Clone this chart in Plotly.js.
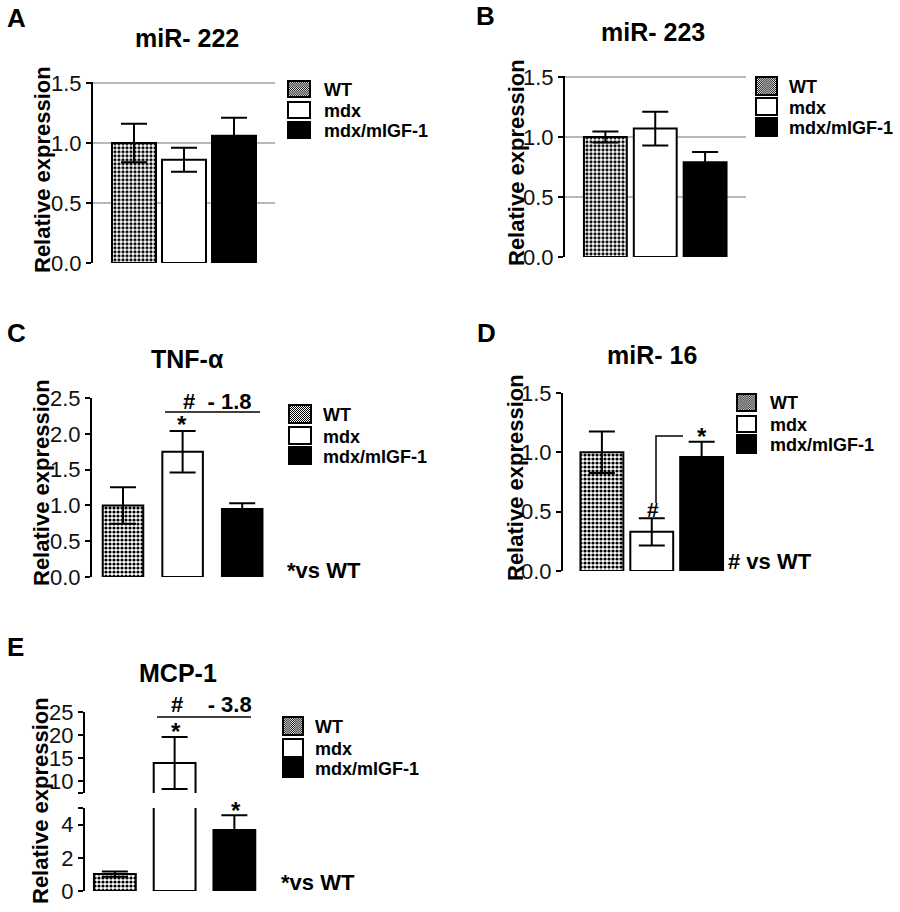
<!DOCTYPE html>
<html>
<head>
<meta charset="utf-8">
<script src="https://cdn.plot.ly/plotly-3.0.1.min.js"></script>
<style>html,body{margin:0;padding:0;background:#fff;}#chart{width:900px;height:912px;}</style>
</head>
<body>
<div id="chart"></div>
<script>
// ---------- data ----------
const groups = ['WT', 'mdx', 'mdx/mIGF-1'];

const miR222 = [1.00, 0.86, 1.06];
const miR222Err = [0.16, 0.10, 0.15];

const miR223 = [1.00, 1.07, 0.79];
const miR223Err = [0.045, 0.14, 0.085];

const tnfa = [1.00, 1.75, 0.95];
const tnfaErr = [0.255, 0.29, 0.08];

const miR16 = [1.00, 0.33, 0.96];
const miR16Err = [0.175, 0.115, 0.13];

const mcp1 = [1.02, 13.9, 3.67];
const mcp1Err = [0.16, 5.65, 0.9];

const ticks15 = [0, 0.5, 1.0, 1.5];
const ticks25 = [0, 0.5, 1.0, 1.5, 2.0, 2.5];
const mcpLowTicks = [0, 2, 4, 5];
const mcpLowText = ['0', '2', '4', ''];
const mcpHighTicks = [7.4, 10, 15, 20, 25];
const mcpHighText = ['', '10', '15', '20', '25'];

// ---------- helpers ----------
const W = 900, H = 912;
const px = v => v / W;
const py = v => 1 - v / H;
const FONT = 'Liberation Sans, Arial, sans-serif';

const lineStyle = {color: '#000', width: 2};
const barStyles = [
  {color: '#fff', line: lineStyle,
   pattern: {shape: '.', size: 4, solidity: 0.5, fgcolor: '#000', bgcolor: '#fff', fillmode: 'replace'}},
  {color: '#fff', line: lineStyle},
  {color: '#000', line: lineStyle}
];

const traces = [];
function addBars(vals, errs, xa, ya, w) {
  for (let i = 0; i < groups.length; i++) {
    traces.push({
      type: 'bar', x: [groups[i]], y: [vals[i]], width: w,
      xaxis: xa, yaxis: ya, showlegend: false, hoverinfo: 'skip',
      marker: barStyles[i],
      error_y: {type: 'data', array: [errs[i]], visible: true, color: '#000', thickness: 2, width: 13}
    });
  }
}
addBars(miR222, miR222Err, 'x', 'y', 0.88);
addBars(miR223, miR223Err, 'x2', 'y2', 0.86);
addBars(tnfa, tnfaErr, 'x3', 'y3', 0.68);
addBars(miR16, miR16Err, 'x4', 'y4', 0.86);
addBars(mcp1, mcp1Err, 'x5', 'y5', 0.70);
addBars(mcp1, mcp1Err, 'x5', 'y6', 0.70);

function xax(l, r, range) {
  return {domain: [px(l), px(r)], range: range, type: 'category', categoryarray: groups,
          showline: false, showticklabels: false, ticks: '', showgrid: false, zeroline: false, fixedrange: true};
}
function yax(b, t, range, tickvals, ticktext, grid, anchor) {
  const o = {domain: [py(b), py(t)], range: range, anchor: anchor,
    showline: true, linecolor: '#000', linewidth: 2,
    ticks: 'outside', ticklen: 5, tickwidth: 2, tickcolor: '#000',
    tickvals: tickvals, tickfont: {family: FONT, size: 22, color: '#111'},
    showgrid: grid, gridcolor: '#b8b8b8', gridwidth: 1.5,
    zeroline: grid, zerolinecolor: '#fff', zerolinewidth: 3, fixedrange: true};
  if (ticktext) o.ticktext = ticktext; else o.tickformat = '.1f';
  return o;
}

const annotations = [];
function ann(text, x, y, size, opts) {
  annotations.push(Object.assign({text: text, x: px(x), y: py(y), xref: 'paper', yref: 'paper',
    showarrow: false, xanchor: 'center', yanchor: 'middle',
    font: {family: FONT, size: size, color: '#000'}}, opts || {}));
}
const shapes = [];
const images = [];
function hline(x0, x1, y) {
  shapes.push({type: 'line', xref: 'paper', yref: 'paper', x0: px(x0), x1: px(x1), y0: py(y), y1: py(y),
               line: {color: '#000', width: 1.5}});
}

// checker pattern image for WT legend box
const checkerSvg = "<svg xmlns='http://www.w3.org/2000/svg' width='44' height='36'><defs><pattern id='p' width='4' height='4' patternUnits='userSpaceOnUse'><rect width='4' height='4' fill='#fff'/><rect width='2' height='2' fill='#000'/><rect x='2' y='2' width='2' height='2' fill='#000'/></pattern></defs><rect width='44' height='36' fill='url(#p)'/></svg>";
const checkerSrc = 'data:image/svg+xml;charset=utf-8,' + encodeURIComponent(checkerSvg);

function legend(x0, x1, rows, tx) {
  const fills = ['none', '#fff', '#000'];
  rows.forEach((r, i) => {
    if (i === 0) {
      images.push({source: checkerSrc, xref: 'paper', yref: 'paper', x: px(x0), y: py(r[0]),
        sizex: px(x1) - px(x0), sizey: (r[1] - r[0]) / H, sizing: 'stretch',
        xanchor: 'left', yanchor: 'top', layer: 'below'});
    }
    shapes.push({type: 'rect', xref: 'paper', yref: 'paper', x0: px(x0), x1: px(x1), y0: py(r[1]), y1: py(r[0]),
      fillcolor: fills[i] === 'none' ? 'rgba(0,0,0,0)' : fills[i], line: {color: '#000', width: 2}});
    ann('<b>' + groups[i] + '</b>', tx, (r[0] + r[1]) / 2 + 1, 18, {xanchor: 'left'});
  });
}

// ---------- panel A ----------
ann('<b>A</b>', 16, 18, 26);
ann('<b>miR- 222</b>', 187, 38, 25);
ann('<b>Relative expression</b>', 43, 170, 22, {textangle: -90});
legend(288, 310, [[81, 97], [102, 118], [122, 138]], 322);

// ---------- panel B ----------
ann('<b>B</b>', 485, 16, 26);
ann('<b>miR- 223</b>', 653, 32, 25);
ann('<b>Relative expression</b>', 517, 163, 22, {textangle: -90});
legend(756, 777, [[77, 95], [98, 115], [118, 136]], 787);

// ---------- panel C ----------
ann('<b>C</b>', 16, 333, 26);
ann('<b>TNF-α</b>', 187, 359, 25);
ann('<b>Relative expression</b>', 42, 483, 22, {textangle: -90});
legend(289, 311, [[405, 423], [427, 444], [447, 464]], 321);
ann('<b>#\u00a0\u00a0- 1.8</b>', 217, 401, 22);
hline(165, 260, 412);
ann('<b>*</b>', 182, 425, 24);
ann('<b>*vs WT</b>', 324, 570, 22);

// ---------- panel D ----------
ann('<b>D</b>', 486, 333, 26);
ann('<b>miR- 16</b>', 652, 355, 25);
ann('<b>Relative expression</b>', 515, 478, 22, {textangle: -90});
legend(737, 756, [[394, 411], [416, 432], [435, 453]], 768);
shapes.push({type: 'path', xref: 'paper', yref: 'paper',
  path: 'M' + px(656) + ',' + py(503) + ' L' + px(656) + ',' + py(436) + ' L' + px(683) + ',' + py(436),
  line: {color: '#000', width: 1.5}});
ann('<b>*</b>', 702, 436, 24);
ann('<b>#</b>', 653, 509, 21);
ann('<b># vs WT</b>', 770, 561, 22);

// ---------- panel E ----------
ann('<b>E</b>', 15, 647, 26);
ann('<b>MCP-1</b>', 178, 673, 25);
ann('<b>Relative expression</b>', 40, 801, 22, {textangle: -90});
legend(283, 303, [[717, 735], [739, 757], [759, 777]], 313);
ann('<b>#\u00a0\u00a0\u00a0\u00a0- 3.8</b>', 211, 704, 22);
hline(157, 251, 717);
ann('<b>*</b>', 176, 731, 24);
ann('<b>*</b>', 236, 810, 24);
ann('<b>*vs WT</b>', 318, 882, 22);

const layout = {
  width: 900, height: 912,
  margin: {l: 0, r: 0, t: 0, b: 0},
  paper_bgcolor: '#fff', plot_bgcolor: 'rgba(0,0,0,0)',
  barmode: 'overlay', showlegend: false,
  font: {family: FONT, color: '#000'},
  xaxis: xax(93, 275, [-0.82, 2.82]),
  yaxis: yax(263, 81.8, [0, 1.51], ticks15, null, true, 'x'),
  xaxis2: xax(565, 746, [-0.81, 2.82]),
  yaxis2: yax(257, 75.8, [0, 1.51], ticks15, null, true, 'x2'),
  xaxis3: xax(92, 275, [-0.52, 2.55]),
  yaxis3: yax(577, 398, [0, 2.5], ticks25, null, false, 'x3'),
  xaxis4: xax(563, 746, [-0.78, 2.89]),
  yaxis4: yax(571, 393, [0, 1.5], ticks15, null, false, 'x4'),
  xaxis5: xax(85, 275, [-0.5, 2.68]),
  yaxis5: yax(891, 808, [0, 5], mcpLowTicks, mcpLowText, false, 'x5'),
  yaxis6: yax(793, 712, [7.4, 25], mcpHighTicks, mcpHighText, false, 'x5'),
  annotations: annotations,
  shapes: shapes,
  images: images
};

Plotly.newPlot('chart', traces, layout, {staticPlot: true, displayModeBar: false});
</script>
</body>
</html>
